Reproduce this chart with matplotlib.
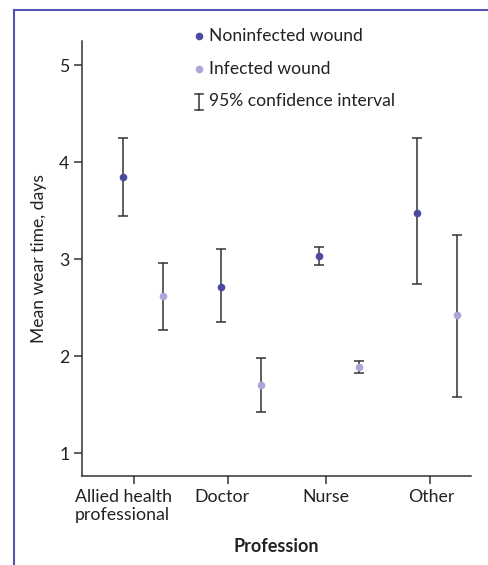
import numpy as np
import matplotlib
matplotlib.use("Agg")
from matplotlib import pyplot as plt

plt.rcParams['font.family'] = ['Lato', 'DejaVu Sans']

professions = ['Allied health\nprofessional', 'Doctor', 'Nurse', 'Other']

# noninfected wound: mean, lower CI, upper CI
non_mean = [3.85, 2.71, 3.03, 3.48]
non_lo = [3.45, 2.35, 2.94, 2.74]
non_hi = [4.25, 3.11, 3.13, 4.25]

# infected wound
inf_mean = [2.62, 1.70, 1.89, 2.42]
inf_lo = [2.27, 1.42, 1.83, 1.58]
inf_hi = [2.96, 1.98, 1.95, 3.25]

c_non = '#4b4a9e'
c_inf = '#aaa7d8'
c_axis = '#333333'
c_text = '#222222'
c_frame = '#5454b4'

W, H = 488, 565
fig = plt.figure(figsize=(W / 100, H / 100), dpi=100)

# blue frame lines (left and top)
fig.add_artist(plt.Line2D([14 / W, 14 / W], [0, 1 - 10 / H], color=c_frame, lw=1.5))
fig.add_artist(plt.Line2D([14 / W, 1], [1 - 10 / H, 1 - 10 / H], color=c_frame, lw=1.5))

ax = fig.add_axes([82 / W, 1 - 476 / H, 389 / W, 435 / H])

x = np.arange(len(professions))
off = 0.204


def draw(xs, mean, lo, hi, color):
    mean = np.array(mean)
    err = np.vstack([mean - np.array(lo), np.array(hi) - mean])
    ax.errorbar(xs, mean, yerr=err, fmt='none', ecolor=c_axis, elinewidth=1.1,
                capsize=3.6, capthick=1.1, zorder=2)
    ax.plot(xs, mean, 'o', color=color, ms=5.5, mec='none', zorder=3)


draw(x - off, non_mean, non_lo, non_hi, c_non)
draw(x + off, inf_mean, inf_lo, inf_hi, c_inf)

ax.set_xlim(-0.622, 3.347)
ax.set_ylim(0.765, 5.25)
ax.set_yticks([1, 2, 3, 4, 5])
# tick marks (no labels) and labels on invisible minor ticks, as in the original
ax.xaxis.remove_overlapping_locs = False
ax.set_xticks([-0.092, 0.867, 1.867, 2.929])
ax.set_xticklabels([])
ax.set_xticks([-0.199, 0.806, 1.867, 2.939], minor=True)
ax.set_xticklabels(professions, minor=True, ha='center', multialignment='left')
ax.tick_params(axis='x', which='minor', length=0, pad=9)

for s in ['top', 'right']:
    ax.spines[s].set_visible(False)
for s in ['left', 'bottom']:
    ax.spines[s].set_color(c_axis)
    ax.spines[s].set_linewidth(1.1)
ax.tick_params(which='both', colors=c_axis, labelcolor=c_text, labelsize=12.8)
ax.tick_params(which='major', length=6, width=1.1, pad=3)

ax.set_ylabel('Mean wear time, days', fontsize=12.6, color=c_text, labelpad=9)
ax.set_xlabel('Profession', fontsize=13, fontweight='bold', color=c_text, labelpad=11)

# legend
lx, tx = 0.301, 0.326
ax.plot([lx], [1.011], 'o', color=c_non, ms=5.5, mec='none', transform=ax.transAxes, clip_on=False)
ax.text(tx, 1.011, 'Noninfected wound', transform=ax.transAxes, va='center', fontsize=12.6, color=c_text)
ax.plot([lx], [0.936], 'o', color=c_inf, ms=5.5, mec='none', transform=ax.transAxes, clip_on=False)
ax.text(tx, 0.936, 'Infected wound', transform=ax.transAxes, va='center', fontsize=12.6, color=c_text)
cw = 0.011
ax.plot([lx, lx], [0.841, 0.878], color=c_axis, lw=1.1, transform=ax.transAxes, clip_on=False)
ax.plot([lx - cw, lx + cw], [0.878, 0.878], color=c_axis, lw=1.1, transform=ax.transAxes, clip_on=False)
ax.plot([lx - cw, lx + cw], [0.841, 0.841], color=c_axis, lw=1.1, transform=ax.transAxes, clip_on=False)
ax.text(tx, 0.862, '95% confidence interval', transform=ax.transAxes, va='center', fontsize=12.6, color=c_text)

fig.savefig('out.png', dpi=100)
